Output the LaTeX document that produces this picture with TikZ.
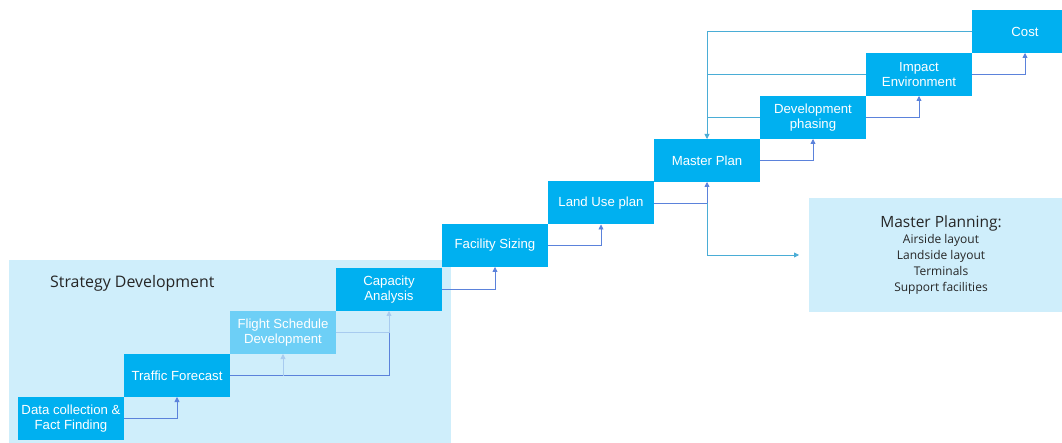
\documentclass[tikz,border=0pt]{standalone}
\usepackage{fontspec}
\setmainfont{Liberation Sans}
\newfontfamily\segoe{Open Sans}
\usetikzlibrary{arrows.meta}
\definecolor{boxblue}{HTML}{00B0F0}
\definecolor{boxlight}{HTML}{6DCFF6}
\definecolor{bgblue}{HTML}{CFEEFB}
\definecolor{fwdcol}{HTML}{5B82DB}
\definecolor{fbcol}{HTML}{4AADD6}
\definecolor{fadecol}{HTML}{A8CBEF}
\definecolor{txtdark}{HTML}{262626}
\tikzset{
  stepbox/.style={fill=boxblue, text=white, minimum width=106pt, minimum height=43pt,
    inner sep=0pt, outer sep=0pt, align=center, font=\fontsize{13.2}{15.2}\selectfont},
  fadebox/.style={stepbox, fill=boxlight},
  fwd/.style={draw=fwdcol, line width=0.8pt, -{Triangle[length=5pt,width=5pt]}},
  fwdline/.style={draw=fwdcol, line width=0.8pt},
  fb/.style={draw=fbcol, line width=0.8pt},
  fbarrow/.style={fb, -{Triangle[length=5pt,width=5pt]}},
  fade/.style={draw=fadecol, line width=0.8pt},
  fadearrow/.style={fade, -{Triangle[length=5pt,width=5pt]}},
  panel/.style={fill=bgblue, inner sep=0pt, outer sep=0pt},
}
\begin{document}
\begin{tikzpicture}[x=1pt,y=-1pt]
\useasboundingbox (0,0) rectangle (1062,443);
\fill[white] (0,0) rectangle (1062,443);
% panels
\node[panel, minimum width=442pt, minimum height=190pt] (sdbg) at (230,355) {};
\node[anchor=west, text=txtdark, font=\segoe\fontsize{15.9}{18}\selectfont, inner sep=0pt] (sdtitle) at (50,283) {Strategy Development};
\node[panel, minimum width=264pt, minimum height=114pt, align=center, text=txtdark,
  font=\segoe\fontsize{12}{15.8}\selectfont] (mpl) at (941,255)
  {{\fontsize{15.5}{18}\selectfont Master Planning:}\\[0.5pt]Airside layout\\Landside layout\\Terminals\\Support facilities};
% step boxes
\node[stepbox] (dc) at (71,418.5) {Data collection \&\\Fact Finding};
\node[stepbox] (tf) at (177,375.5) {Traffic Forecast};
\node[fadebox] (fs) at (283,332.5) {Flight Schedule\\Development};
\node[stepbox] (ca) at (389,289.5) {Capacity\\Analysis};
\node[stepbox] (fsz) at (495,245.5) {Facility Sizing};
\node[stepbox] (lu) at (601,203) {Land Use plan};
\node[stepbox] (mp) at (707,160.5) {Master Plan};
\node[stepbox] (dp) at (813,117.5) {Development\\phasing};
\node[stepbox] (ie) at (919,74.5) {Impact\\Environment};
\node[stepbox] (cost) at (1025,31.5) {Cost};
% forward connectors
\draw[fwd] (dc.east) -| (tf.south);
\coordinate (tfca) at (ca.south |- fs.east);
\draw[fwdline] (tf.east) -| (tfca);
\draw[fadearrow] (fs.east) -| (ca.south);
\draw[fadearrow] (fs.south |- tf.east) -- (fs.south);
\draw[fwd] (ca.east) -| (fsz.south);
\draw[fwd] (fsz.east) -| (lu.south);
\draw[fwd] (lu.east) -| (mp.south);
\draw[fwd] (mp.east) -| (dp.south);
\draw[fwd] (dp.east) -| (ie.south);
\draw[fwd] (ie.east) -| (cost.south);
% branch to master planning
\coordinate (mplin) at ([xshift=-10pt]mpl.west);
\draw[fbarrow] (mp.south |- lu.east) |- (mplin);
% feedback
\draw[fbarrow] (cost.west) -| (mp.north);
\draw[fb] (ie.west) -- (mp.north |- ie.west);
\draw[fb] (dp.west) -- (mp.north |- dp.west);
\end{tikzpicture}
\end{document}
